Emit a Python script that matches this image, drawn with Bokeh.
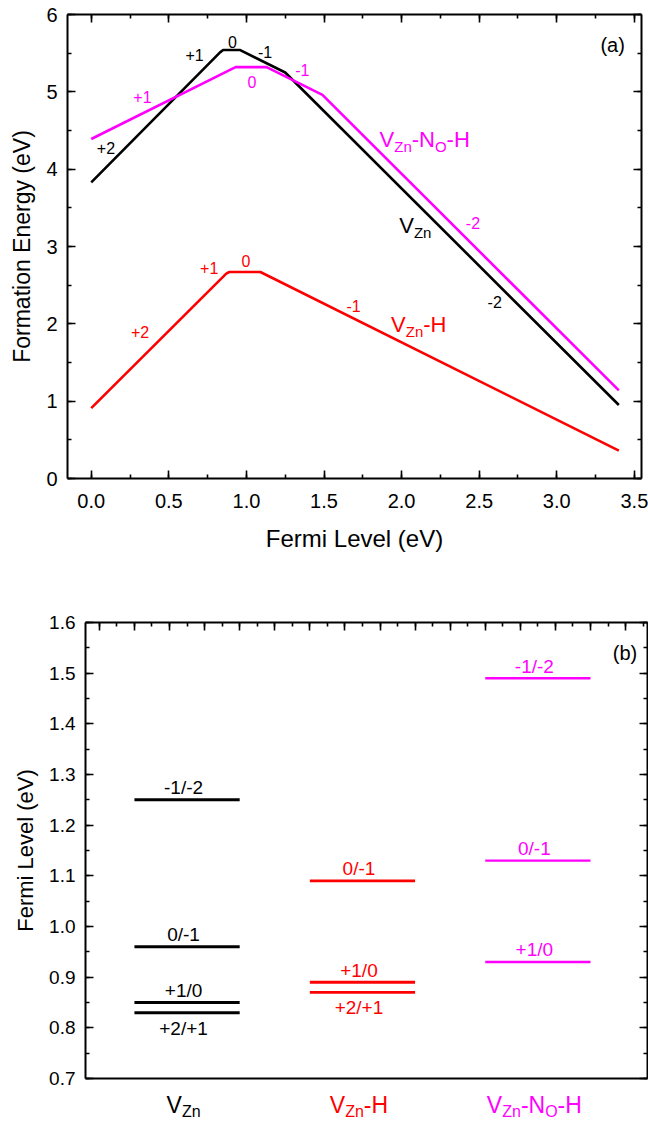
import numpy as np
from bokeh.plotting import figure
from bokeh.models import (LinearAxis, Label, SingleIntervalTicker, FixedTicker,
                          CustomJSTickFormatter, NumeralTickFormatter, Range1d, ColumnDataSource)
from bokeh.core.properties import value
from bokeh.embed import file_html
from bokeh.resources import INLINE

FONT = "Liberation Sans"
BLACK, RED, MAG = "#000000", "#FF0000", "#FF00FF"

# ---------------- data: panel (a) formation energies (vertices) ----------------
vzn_fermi = [0.0, 0.83, 0.85, 0.96, 1.25, 3.40]
vzn_energy = [3.83, 5.51, 5.54, 5.54, 5.25, 0.95]
vznh_fermi = [0.0, 0.87, 0.89, 1.09, 3.40]
vznh_energy = [0.91, 2.65, 2.67, 2.67, 0.36]
vznnoh_fermi = [0.0, 0.93, 1.13, 1.49, 3.40]
vznnoh_energy = [4.39, 5.32, 5.32, 4.96, 1.14]

# charge-state annotations (text, x, y)
vzn_charges = ["+2", "+1", "0", "-1", "-2"]
vzn_charge_x = [0.095, 0.666, 0.91, 1.12, 2.60]
vzn_charge_y = [4.28, 5.48, 5.65, 5.52, 2.28]
vznh_charges = ["+2", "+1", "0", "-1"]
vznh_charge_x = [0.315, 0.76, 0.997, 1.69]
vznh_charge_y = [1.90, 2.72, 2.81, 2.23]
vznnoh_charges = ["+1", "0", "-1", "-2"]
vznnoh_charge_x = [0.33, 1.035, 1.36, 2.46]
vznnoh_charge_y = [4.93, 5.13, 5.28, 3.30]

# ---------------- data: panel (b) transition levels ----------------
categories = ["VZn", "VZn-H", "VZn-NO-H"]
category_parts = [
    [("V", False), ("Zn", True)],
    [("V", False), ("Zn", True), ("-H", False)],
    [("V", False), ("Zn", True), ("-N", False), ("O", True), ("-H", False)],
]
vzn_levels = [0.83, 0.85, 0.96, 1.25]
vzn_level_labels = ["+2/+1", "+1/0", "0/-1", "-1/-2"]
vzn_label_side = ["below", "above", "above", "above"]
vznh_levels = [0.87, 0.89, 1.09]
vznh_level_labels = ["+2/+1", "+1/0", "0/-1"]
vznh_label_side = ["below", "above", "above"]
vznnoh_levels = [0.93, 1.13, 1.49]
vznnoh_level_labels = ["+1/0", "0/-1", "-1/-2"]
vznnoh_label_side = ["above", "above", "above"]

# ---------------- helpers ----------------
WIDTH = {"V": 0.667, "Z": 0.611, "n": 0.556, "-": 0.333, "N": 0.722, "O": 0.778, "H": 0.722}


def text_width(s, size):
    return sum(WIDTH.get(c, 0.556) for c in s) * size


def add_rich(p, x, y, parts, color, size, sub_size, sub_drop, align="left"):
    widths = [text_width(t, sub_size if sub else size) for t, sub in parts]
    off = -sum(widths) / 2 if align == "center" else 0
    for (t, sub), w in zip(parts, widths):
        p.add_layout(Label(x=x, y=y, x_offset=off, y_offset=-sub_drop if sub else 0,
                           text=t, text_color=color, text_font=FONT,
                           text_font_size=f"{sub_size if sub else size}px",
                           text_baseline="alphabetic", text_align="left"))
        off += w


def style_axis(ax, label_size="20px", major_in=8, minor_in=4, standoff=10):
    ax.axis_line_width = 2
    ax.axis_line_color = "black"
    ax.major_tick_in = major_in
    ax.major_tick_out = 0
    ax.minor_tick_in = minor_in
    ax.minor_tick_out = 0
    ax.major_tick_line_width = 1.6
    ax.minor_tick_line_width = 1.6
    ax.major_label_text_font = FONT
    ax.major_label_text_font_size = label_size
    ax.major_label_text_color = "black"
    ax.major_label_standoff = standoff
    ax.axis_label_text_font = FONT
    ax.axis_label_text_font_style = "normal"
    ax.axis_label_text_color = "black"


def blank_axis(ticker, major_in=8, minor_in=4):
    ax = LinearAxis(ticker=ticker, formatter=CustomJSTickFormatter(code="return ''"))
    style_axis(ax, label_size="0px", major_in=major_in, minor_in=minor_in, standoff=0)
    return ax


# ---------------- panel (a) ----------------
p1 = figure(width=648, height=600, x_range=Range1d(-0.153, 3.546), y_range=Range1d(0, 6),
            output_backend="svg", toolbar_location=None,
            min_border_left=67, min_border_right=7, min_border_top=14, min_border_bottom=122,
            x_axis_label="Fermi Level (eV)", y_axis_label="Formation Energy (eV)")
p1.grid.visible = False
p1.outline_line_color = None

xt1 = SingleIntervalTicker(interval=0.5, num_minor_ticks=2)
yt1 = SingleIntervalTicker(interval=1, num_minor_ticks=2)
p1.xaxis.ticker = xt1
p1.yaxis.ticker = yt1
p1.xaxis.formatter = NumeralTickFormatter(format="0.0")
style_axis(p1.xaxis[0], label_size="20px", standoff=15)
style_axis(p1.yaxis[0], label_size="20px", standoff=10)
p1.xaxis[0].axis_label_text_font_size = "24px"
p1.xaxis[0].axis_label_standoff = 14
p1.yaxis[0].axis_label_text_font_size = "23px"
p1.yaxis[0].axis_label_standoff = 8
p1.add_layout(blank_axis(xt1), "above")
p1.add_layout(blank_axis(yt1), "right")

p1.line(vzn_fermi, vzn_energy, line_color=BLACK, line_width=2.6)
p1.line(vznnoh_fermi, vznnoh_energy, line_color=MAG, line_width=2.6)
p1.line(vznh_fermi, vznh_energy, line_color=RED, line_width=2.6)

for xs, ys, ts, col in [(vzn_charge_x, vzn_charge_y, vzn_charges, BLACK),
                        (vznh_charge_x, vznh_charge_y, vznh_charges, RED),
                        (vznnoh_charge_x, vznnoh_charge_y, vznnoh_charges, MAG)]:
    p1.text(x=xs, y=ys, text=ts, text_color=col, text_font=value(FONT),
            text_font_size="16px", text_align="center", text_baseline="middle")

add_rich(p1, 1.985, 3.27, category_parts[0], BLACK, 22, 15, 7)
add_rich(p1, 1.932, 1.99, category_parts[1], RED, 22, 15, 7)
add_rich(p1, 1.858, 4.38, category_parts[2], MAG, 22, 15, 7)
p1.text(x=[3.36], y=[5.61], text=["(a)"], text_color=BLACK, text_font=value(FONT),
        text_font_size="20px", text_align="center", text_baseline="middle")

# ---------------- panel (b) ----------------
xr2 = Range1d(0.421, 3.625)
p2 = figure(width=648, height=489, x_range=xr2, y_range=Range1d(0.7, 1.6),
            output_backend="svg", toolbar_location=None,
            min_border_left=85, min_border_right=1, min_border_top=22, min_border_bottom=11,
            y_axis_label="Fermi Level (eV)")
p2.grid.visible = False
p2.outline_line_color = None

yt2 = SingleIntervalTicker(interval=0.1, num_minor_ticks=2)
xt2 = FixedTicker(ticks=list(np.round(np.arange(0.5, 3.61, 0.2), 2)),
                  minor_ticks=list(np.round(np.arange(0.5, 3.61, 0.1), 2)))
p2.yaxis.ticker = yt2
p2.yaxis.formatter = NumeralTickFormatter(format="0.0")
style_axis(p2.yaxis[0], label_size="19px", standoff=10)
p2.yaxis[0].axis_label_text_font_size = "22px"
p2.yaxis[0].axis_label_standoff = 8
bx = p2.xaxis[0]
bx.ticker = xt2
bx.formatter = CustomJSTickFormatter(code="return ''")
style_axis(bx, label_size="0px", major_in=0, minor_in=0, standoff=0)
p2.add_layout(blank_axis(xt2), "above")
p2.add_layout(blank_axis(yt2), "right")

# category labels live in a thin strip under panel (b)
p3 = figure(width=648, height=35, x_range=xr2, y_range=Range1d(0, 1),
            output_backend="svg", toolbar_location=None,
            x_axis_location=None, y_axis_location=None,
            min_border_left=85, min_border_right=1, min_border_top=0, min_border_bottom=0)
p3.grid.visible = False
p3.outline_line_color = None

half = 0.3
gap = 0.024
groups = [(vzn_levels, vzn_level_labels, vzn_label_side, BLACK, 3.0),
          (vznh_levels, vznh_level_labels, vznh_label_side, RED, 2.8),
          (vznnoh_levels, vznnoh_level_labels, vznnoh_label_side, MAG, 2.4)]
for i, (levels, labels, sides, col, lw) in enumerate(groups):
    cx = i + 1
    n = len(levels)
    src = ColumnDataSource(dict(x0=[cx - half] * n, x1=[cx + half] * n, y=levels))
    p2.segment(x0="x0", x1="x1", y0="y", y1="y", source=src, line_color=col, line_width=lw)
    above = [(l, t) for l, t, s in zip(levels, labels, sides) if s == "above"]
    below = [(l, t) for l, t, s in zip(levels, labels, sides) if s == "below"]
    if above:
        p2.text(x=[cx - 0.02] * len(above), y=[a[0] + gap for a in above], text=[a[1] for a in above],
                text_color=col, text_font=value(FONT), text_font_size="19px",
                text_align="center", text_baseline="alphabetic")
    if below:
        p2.text(x=[cx - 0.02] * len(below), y=[b[0] - 0.010 for b in below], text=[b[1] for b in below],
                text_color=col, text_font=value(FONT), text_font_size="19px",
                text_align="center", text_baseline="top")
    add_rich(p3, cx - 0.02, 0.55, category_parts[i], col, 23, 16, 6, align="center")

p2.text(x=[3.497], y=[1.54], text=["(b)"], text_color=BLACK, text_font=value(FONT),
        text_font_size="20px", text_align="center", text_baseline="middle")

open("out.html", "w").write(file_html([p1, p2, p3], INLINE))
